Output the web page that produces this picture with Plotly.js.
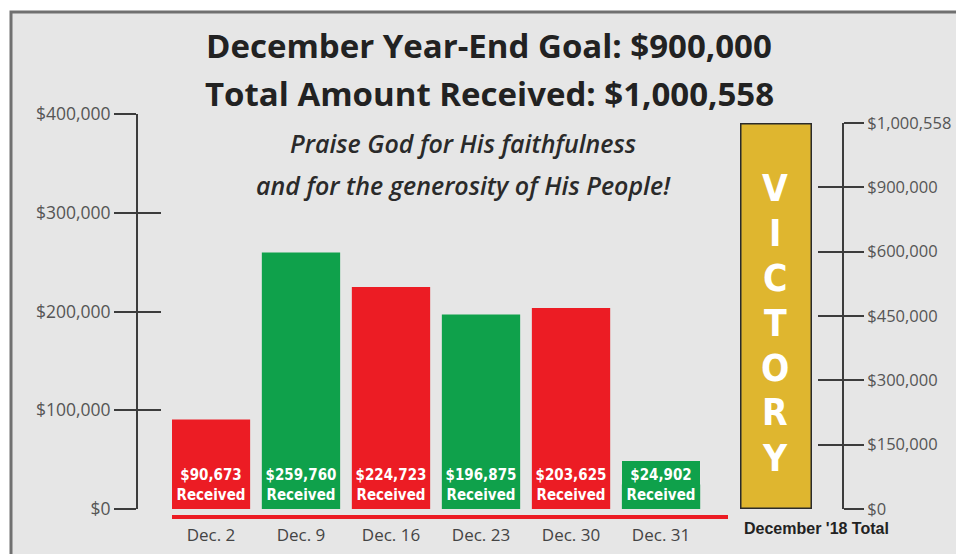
<!DOCTYPE html>
<html>
<head>
<meta charset="utf-8">
<script src="https://cdn.plot.ly/plotly-3.0.1.min.js"></script>
<style>html,body{margin:0;padding:0;background:#fff;}#chart{width:956px;height:554px;}</style>
</head>
<body>
<div id="chart"></div>
<script>
// ---- data ----
const weeks = ['Dec. 2', 'Dec. 9', 'Dec. 16', 'Dec. 23', 'Dec. 30', 'Dec. 31'];
const received = [90673, 259760, 224723, 196875, 203625, 24902];
const barColors = ['#ec1c24', '#0fa14b', '#ec1c24', '#0fa14b', '#ec1c24', '#0fa14b'];
const leftTickVals = [0, 100000, 200000, 300000, 400000];
const leftTickText = ['$0', '$100,000', '$200,000', '$300,000', '$400,000'];
const totalCategory = ["December '18 Total"];
const totalReceived = [1000558];
const goal = 900000;
const rightTickText = ['$0', '$150,000', '$300,000', '$450,000', '$600,000', '$900,000', '$1,000,558'];
const victoryWord = 'VICTORY';
const titleLines = ['December Year-End Goal: $900,000', 'Total Amount Received: $1,000,558'];
const subtitleLines = ['Praise God for His faithfulness', 'and for the generosity of His People!'];

// ---- helpers (pixel -> paper) ----
const W = 956, H = 554;
const fx = px => px / W;
const fy = py => (H - py) / H;
const money = v => '$' + v.toLocaleString('en-US');

const totalMax = totalReceived[0];
const rightTickVals = rightTickText.map((_, i) => i * totalMax / (rightTickText.length - 1));

const traces = [
  {
    type: 'bar', x: weeks, y: received, xaxis: 'x', yaxis: 'y',
    marker: {color: barColors, line: {width: 0}},
    hoverinfo: 'skip', showlegend: false
  },
  { type: 'scatter', x: [], y: [], xaxis: 'x', yaxis: 'y2', showlegend: false, hoverinfo: 'skip' },
  {
    type: 'bar', x: totalCategory, y: totalReceived, xaxis: 'x2', yaxis: 'y3', width: 1,
    marker: {color: '#dfb62f', line: {color: '#2b2b2b', width: 3}},
    hoverinfo: 'skip', showlegend: false
  },
  { type: 'scatter', x: [], y: [], xaxis: 'x2', yaxis: 'y4', showlegend: false, hoverinfo: 'skip' },
  { type: 'scatter', x: [], y: [], xaxis: 'x2', yaxis: 'y5', showlegend: false, hoverinfo: 'skip' }
];

const leftFont = {family: 'Open Sans, sans-serif', size: 17.5, color: '#555'};
const rightFont = {family: 'Open Sans, sans-serif', size: 16.5, color: '#555'};
const axColor = '#3c3c3c';
const condensed = 'DejaVu Sans Condensed, Liberation Sans Narrow, sans-serif';

const annotations = [];
titleLines.forEach((t, i) => annotations.push({
  xref: 'paper', yref: 'paper', x: fx(489), y: fy(45 + i * 48), xanchor: 'center', yanchor: 'middle',
  text: '<b>' + t + '</b>', showarrow: false,
  font: {family: 'Open Sans, sans-serif', size: 33, color: '#222'}
}));
subtitleLines.forEach((t, i) => annotations.push({
  xref: 'paper', yref: 'paper', x: fx(463), y: fy(143 + i * 42), xanchor: 'center', yanchor: 'middle',
  text: '<i>' + t + '</i>', showarrow: false,
  font: {family: 'Open Sans, sans-serif', size: 25, color: '#2a2a2a', weight: 600, style: 'italic'}
}));
weeks.forEach((w, i) => annotations.push({
  xref: 'x', yref: 'y', x: w, y: 0, xanchor: 'center', yanchor: 'bottom',
  text: '<b>' + money(received[i]) + '<br>Received</b>', showarrow: false,
  width: 78, height: 48, borderpad: 0, borderwidth: 0, bgcolor: barColors[i],
  font: {family: condensed, size: 15, color: '#fff'}
}));
victoryWord.split('').forEach((ch, i) => annotations.push({
  xref: 'paper', yref: 'paper', x: fx(775), y: fy(188 + i * 45), xanchor: 'center', yanchor: 'middle',
  text: '<b>' + ch + '</b>', showarrow: false,
  font: {family: condensed, size: 37, color: '#fff'}
}));
annotations.push({
  xref: 'paper', yref: 'paper', x: fx(816), y: fy(528), xanchor: 'center', yanchor: 'middle',
  text: '<b>' + totalCategory[0] + '</b>', showarrow: false,
  font: {family: 'Liberation Sans, Arial, sans-serif', size: 16, color: '#222'}
});

const layout = {
  width: W, height: H,
  margin: {l: 0, r: 0, t: 0, b: 0},
  paper_bgcolor: '#ffffff', plot_bgcolor: 'rgba(0,0,0,0)',
  showlegend: false, bargap: 0.13,
  xaxis: {
    type: 'category', domain: [fx(172), fx(728)], range: [-0.433, 5.744],
    anchor: 'free', position: fy(517),
    showline: true, linecolor: '#ec1c24', linewidth: 4,
    ticks: '', showgrid: false, zeroline: false, ticklabelstandoff: 2,
    tickfont: {family: 'Open Sans, sans-serif', size: 17, color: '#444'},
    fixedrange: true
  },
  yaxis: {
    domain: [fy(509), fy(114)], range: [0, 400000],
    anchor: 'free', position: fx(137),
    showline: true, linecolor: axColor, linewidth: 2,
    ticks: 'outside', ticklen: 22, tickwidth: 2, tickcolor: axColor,
    tickvals: leftTickVals, ticktext: leftTickText, tickfont: leftFont,
    showgrid: false, zeroline: false, fixedrange: true
  },
  yaxis2: {
    overlaying: 'y', range: [0, 400000], anchor: 'free', position: fx(137),
    showline: false, ticks: 'inside', ticklen: 23, tickwidth: 2, tickcolor: axColor,
    tickvals: leftTickVals, showticklabels: false, showgrid: false, zeroline: false, fixedrange: true
  },
  xaxis2: {
    type: 'category', domain: [fx(740), fx(812)], range: [-0.5, 0.5], anchor: 'y3',
    showticklabels: false, ticks: '', showline: false, showgrid: false, zeroline: false, fixedrange: true
  },
  yaxis3: {
    domain: [fy(509), fy(123)], range: [0, totalMax], anchor: 'x2',
    visible: false, fixedrange: true
  },
  yaxis4: {
    overlaying: 'y3', range: [0, totalMax], anchor: 'free', position: fx(843), side: 'right',
    showline: true, linecolor: axColor, linewidth: 2,
    ticks: 'outside', ticklen: 20, tickwidth: 2, tickcolor: axColor,
    tickvals: rightTickVals, ticktext: rightTickText, tickfont: rightFont,
    showgrid: false, zeroline: false, fixedrange: true
  },
  yaxis5: {
    overlaying: 'y3', range: [0, totalMax], anchor: 'free', position: fx(843), side: 'right',
    showline: false, ticks: 'inside', ticklen: 25, tickwidth: 2, tickcolor: axColor,
    tickvals: rightTickVals, showticklabels: false, showgrid: false, zeroline: false, fixedrange: true
  },
  shapes: [{
    type: 'rect', xref: 'paper', yref: 'paper', layer: 'below',
    x0: fx(11), x1: 1.05, y0: -0.05, y1: fy(12),
    fillcolor: '#e6e6e6', line: {color: '#707070', width: 3}
  }],
  annotations: annotations
};

Plotly.newPlot('chart', traces, layout, {displayModeBar: false, staticPlot: true});
</script>
</body>
</html>
